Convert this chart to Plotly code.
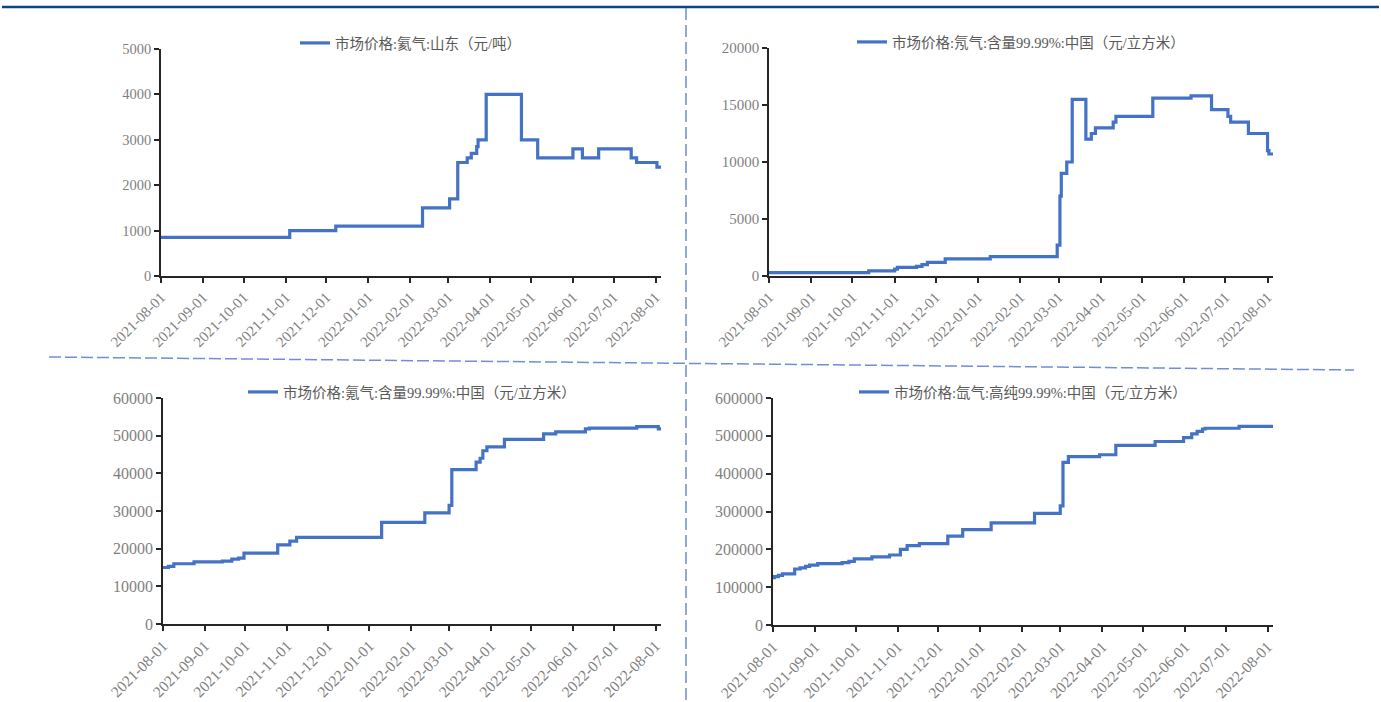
import plotly.graph_objects as go

# ---------------- data ----------------
names = [
    "市场价格:氦气:山东（元/吨）",
    "市场价格:氖气:含量99.99%:中国（元/立方米）",
    "市场价格:氪气:含量99.99%:中国（元/立方米）",
    "市场价格:氙气:高纯99.99%:中国（元/立方米）",
]

dates1 = ["2021-08-01", "2021-11-04", "2021-12-08", "2022-02-10", "2022-03-02", "2022-03-08",
          "2022-03-15", "2022-03-18", "2022-03-22", "2022-03-23", "2022-03-29", "2022-04-24",
          "2022-05-06", "2022-06-01", "2022-06-08", "2022-06-20", "2022-07-14", "2022-07-18",
          "2022-08-02", "2022-08-05"]
vals1 = [850, 1000, 1100, 1500, 1700, 2500, 2600, 2700, 2850, 3000, 4000, 3000,
         2600, 2800, 2600, 2800, 2600, 2500, 2400, 2400]

dates2 = ["2021-08-01", "2021-10-13", "2021-11-01", "2021-11-03", "2021-11-17", "2021-11-21",
          "2021-11-25", "2021-12-08", "2022-01-10", "2022-02-28", "2022-03-02", "2022-03-03",
          "2022-03-07", "2022-03-11", "2022-03-21", "2022-03-25", "2022-03-28", "2022-04-10",
          "2022-04-12", "2022-05-09", "2022-06-06", "2022-06-21", "2022-07-03", "2022-07-05",
          "2022-07-18", "2022-08-01", "2022-08-02", "2022-08-05"]
vals2 = [300, 450, 600, 750, 850, 1000, 1200, 1500, 1700, 2700, 7000, 9000,
         10000, 15500, 12000, 12500, 13000, 13500, 14000, 15600, 15800, 14600, 14000, 13500,
         12500, 11000, 10700, 10700]

dates3 = ["2021-08-01", "2021-08-05", "2021-08-09", "2021-08-24", "2021-09-14", "2021-09-21",
          "2021-09-26", "2021-09-30", "2021-10-25", "2021-11-03", "2021-11-08", "2022-01-10",
          "2022-02-11", "2022-03-01", "2022-03-03", "2022-03-21", "2022-03-24", "2022-03-26",
          "2022-03-29", "2022-04-11", "2022-05-10", "2022-05-19", "2022-06-10", "2022-06-13",
          "2022-07-18", "2022-08-03", "2022-08-05"]
vals3 = [15000, 15300, 16000, 16500, 16700, 17200, 17500, 18800, 21000, 22000, 23000, 27000,
         29500, 31500, 41000, 43000, 44000, 46000, 47000, 49000, 50500, 51000, 51800, 52000,
         52400, 51800, 51800]

dates4 = ["2021-08-01", "2021-08-02", "2021-08-05", "2021-08-08", "2021-08-17", "2021-08-21",
          "2021-08-25", "2021-08-28", "2021-09-03", "2021-09-21", "2021-09-26", "2021-09-30",
          "2021-10-13", "2021-10-26", "2021-11-03", "2021-11-08", "2021-11-17", "2021-12-08",
          "2021-12-19", "2022-01-09", "2022-02-10", "2022-03-01", "2022-03-03", "2022-03-07",
          "2022-03-30", "2022-04-11", "2022-05-10", "2022-05-31", "2022-06-06", "2022-06-10",
          "2022-06-14", "2022-06-16", "2022-07-11", "2022-08-05"]
vals4 = [125000, 128000, 131000, 135000, 148000, 151000, 155000, 158000, 162000, 165000,
         168000, 175000, 180000, 185000, 200000, 210000, 215000, 235000, 252000, 270000,
         295000, 315000, 430000, 445000, 450000, 475000, 485000, 495000, 505000, 512000,
         518000, 520000, 525000, 525000]

y_max = [5000, 20000, 60000, 600000]
y_step = [1000, 5000, 10000, 100000]
x_start = "2021-08-01"
x_end = "2022-08-05"

# ---------------- figure ----------------
W, H = 1381, 702
LINE = "#4472C4"
SERIF = "Liberation Serif, Times New Roman, serif"
LEG_FONT = dict(family="Liberation Serif, Noto Sans CJK SC, serif", size=14.5, color="#595959")

# panel boxes in pixels: (left, right, top, bottom)
boxes = [(161, 661, 49, 276), (769, 1273, 48, 276), (163, 661, 398, 624), (773, 1273, 398, 625)]
ytick_sizes = [14.5, 15, 16, 16]
xtick_sizes = [15, 15, 15.5, 15.5]

fig = go.Figure()
all_dates = [dates1, dates2, dates3, dates4]
all_vals = [vals1, vals2, vals3, vals4]

for i in range(4):
    sfx = "" if i == 0 else str(i + 1)
    leg = "legend" if i == 0 else f"legend{i + 1}"
    fig.add_trace(go.Scatter(
        x=all_dates[i], y=all_vals[i], mode="lines", line=dict(color=LINE, width=3.2, shape="hv"),
        name=names[i], xaxis="x" + sfx, yaxis="y" + sfx, legend=leg, showlegend=True,
    ))
    l, r, t, b = boxes[i]
    fig.layout["xaxis" + sfx] = dict(
        domain=[l / W, r / W], anchor="y" + sfx, type="date", range=[x_start, x_end],
        tick0=x_start, dtick="M1", tickformat="%Y-%m-%d", tickangle=-45, automargin=False,
        showline=True, linecolor="#262626", linewidth=1.5, ticks="outside", ticklen=5,
        tickcolor="#262626", tickwidth=1.5, showgrid=False, zeroline=False,
        tickfont=dict(family=SERIF, size=xtick_sizes[i], color="#7f7f7f"),
    )
    fig.layout["yaxis" + sfx] = dict(
        domain=[1 - b / H, 1 - t / H], anchor="x" + sfx, range=[0, y_max[i]], dtick=y_step[i],
        tick0=0, tickformat="d", automargin=False,
        showline=True, linecolor="#262626", linewidth=1.5, ticks="outside", ticklen=5,
        tickcolor="#262626", tickwidth=1.5, showgrid=False, zeroline=False,
        tickfont=dict(family=SERIF, size=ytick_sizes[i], color="#7f7f7f"),
    )
    fig.layout[leg] = dict(
        x=(l + r) / 2 / W, y=1 - (t - 6) / H, xanchor="center", yanchor="middle",
        orientation="h", bgcolor="rgba(0,0,0,0)", font=LEG_FONT, itemwidth=30,
    )

shapes = [
    dict(type="line", xref="paper", yref="paper", x0=2 / W, x1=1379 / W, y0=1 - 7 / H, y1=1 - 7 / H,
         line=dict(color="#0d4489", width=2.5)),
    dict(type="line", xref="paper", yref="paper", x0=686 / W, x1=686 / W, y0=1 - 8 / H, y1=1 - 700 / H,
         line=dict(color=LINE, width=1.2, dash="12px,5px")),
    dict(type="line", xref="paper", yref="paper", x0=49 / W, x1=1354 / W, y0=1 - 357 / H, y1=1 - 370 / H,
         line=dict(color="#6f8fd2", width=1.5, dash="12px,4px")),
]

fig.update_layout(
    template="none",
    width=W, height=H, margin=dict(l=0, r=0, t=0, b=0, autoexpand=False),
    paper_bgcolor="white", plot_bgcolor="white", shapes=shapes,
)

fig.write_html(
    "out.html",
    config={"displayModeBar": False},
    post_script="document.body.style.margin='0';document.body.style.overflow='hidden';",
)
